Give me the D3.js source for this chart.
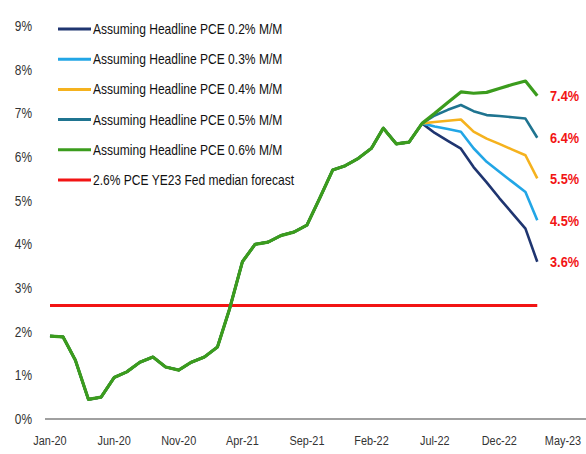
<!DOCTYPE html>
<html><head><meta charset="utf-8">
<script src="https://cdn.jsdelivr.net/npm/d3@7"></script>
<style>
html,body{margin:0;padding:0;background:#fff;}
text{font-family:"Liberation Sans Narrow","Arial Narrow","Liberation Sans",sans-serif;}
</style></head>
<body>
<svg id="chart" width="586" height="454"></svg>
<script>
// ---- data ----
const histMonths = ["2020-01","2020-02","2020-03","2020-04","2020-05","2020-06","2020-07","2020-08","2020-09","2020-10","2020-11","2020-12",
  "2021-01","2021-02","2021-03","2021-04","2021-05","2021-06","2021-07","2021-08","2021-09","2021-10","2021-11","2021-12",
  "2022-01","2022-02","2022-03","2022-04","2022-05","2022-06"];
const history = [1.9,1.88,1.35,0.45,0.5,0.95,1.08,1.3,1.42,1.19,1.12,1.3,
  1.42,1.65,2.5,3.6,4.0,4.05,4.2,4.28,4.44,5.05,5.7,5.8,
  5.97,6.2,6.66,6.3,6.34,6.77];
const projMonths = ["2022-07","2022-08","2022-09","2022-10","2022-11","2022-12","2023-01","2023-02","2023-03"];
const scenarioNames = ["Assuming Headline PCE 0.2% M/M","Assuming Headline PCE 0.3% M/M","Assuming Headline PCE 0.4% M/M","Assuming Headline PCE 0.5% M/M","Assuming Headline PCE 0.6% M/M"];
const proj02 = [6.55,6.37,6.19,5.77,5.42,5.06,4.71,4.36,3.6];
const proj03 = [6.7,6.64,6.58,6.2,5.89,5.66,5.43,5.2,4.55];
const proj04 = [6.8,6.83,6.86,6.58,6.42,6.3,6.17,6.04,5.51];
const proj05 = [6.95,7.08,7.19,7.05,6.96,6.94,6.91,6.88,6.44];
const proj06 = [7.0,7.25,7.49,7.46,7.48,7.57,7.66,7.74,7.40];
const endLabels = ["3.6%","4.5%","5.5%","6.4%","7.4%"];
const fedName = "2.6% PCE YE23 Fed median forecast";
const fedValue = 2.6;
const yTicks = [0,1,2,3,4,5,6,7,8,9];
const xTickLabels = ["2020-01","2020-06","2020-11","2021-04","2021-09","2022-02","2022-07","2022-12","2023-05"];
const colors = ["#1f3570","#22a6e6","#f5b21e","#1f7490","#3b9c1d"];
const fedColor = "#f21414";

// ---- setup ----
const svg = d3.select("#chart");
const parse = d3.timeParse("%Y-%m");
const fmt = d3.timeFormat("%b-%y");
const x = d3.scaleTime().domain([parse("2020-01"), parse("2023-05")]).range([50, 563]);
const y = d3.scaleLinear().domain([0, 9]).range([419, 26]);

// narrow text helper: compress horizontally to mimic a condensed font
function narrow(sel, k) {
  sel.each(function() {
    const w = this.getComputedTextLength();
    d3.select(this).attr("textLength", w * k).attr("lengthAdjust", "spacingAndGlyphs");
  });
}

// y tick labels
svg.append("g").selectAll("text").data(yTicks).join("text")
  .attr("x", 32).attr("y", d => y(d)).attr("dy", "0.35em")
  .attr("text-anchor", "end").attr("font-size", 14).attr("fill", "#333")
  .text(d => d + "%").call(narrow, 0.85);

// x axis line
svg.append("line").attr("x1", 45).attr("x2", 586).attr("y1", y(0)).attr("y2", y(0))
  .attr("stroke", "#a0a0a0").attr("stroke-width", 2);

// x tick labels
svg.append("g").selectAll("text").data(xTickLabels).join("text")
  .attr("x", d => x(parse(d))).attr("y", 441).attr("dy", "0.35em")
  .attr("text-anchor", "middle").attr("font-size", 12.5).attr("fill", "#333")
  .text(d => fmt(parse(d))).call(narrow, 0.87);

// fed line
const allMonths = histMonths.concat(projMonths);
const line = d3.line().x(d => x(parse(d.m))).y(d => y(d.v));
svg.append("path")
  .datum(allMonths.map(m => ({m, v: fedValue})))
  .attr("d", line).attr("fill", "none").attr("stroke", fedColor).attr("stroke-width", 3);

// scenario lines
const projections = [proj02, proj03, proj04, proj05, proj06];
projections.forEach((p, i) => {
  const pts = histMonths.map((m, j) => ({m, v: history[j]}))
    .concat(projMonths.map((m, j) => ({m, v: p[j]})));
  svg.append("path").datum(pts).attr("d", line)
    .attr("fill", "none").attr("stroke", colors[i])
    .attr("stroke-width", i === 4 ? 3.2 : 2.6).attr("stroke-linejoin", "round");
});

// end labels
projections.forEach((p, i) => {
  svg.append("text")
    .attr("x", 550).attr("y", y(p[p.length - 1])).attr("dy", "0.35em")
    .attr("font-size", 15).attr("font-weight", "bold").attr("fill", fedColor)
    .text(endLabels[i]).call(narrow, 0.85);
});

// legend
const legendItems = scenarioNames.map((n, i) => ({n, c: colors[i]})).concat([{n: fedName, c: fedColor}]);
const lg = svg.append("g").selectAll("g").data(legendItems).join("g")
  .attr("transform", (d, i) => `translate(58,${29 + i * 30.2})`);
lg.append("line").attr("x1", 0).attr("x2", 33).attr("y1", 0).attr("y2", 0)
  .attr("stroke", d => d.c).attr("stroke-width", 3);
lg.append("text").attr("x", 35).attr("y", 0).attr("dy", "0.35em")
  .attr("font-size", 14.5).attr("fill", "#111")
  .text(d => d.n).call(narrow, 0.83);
</script>
</body></html>
